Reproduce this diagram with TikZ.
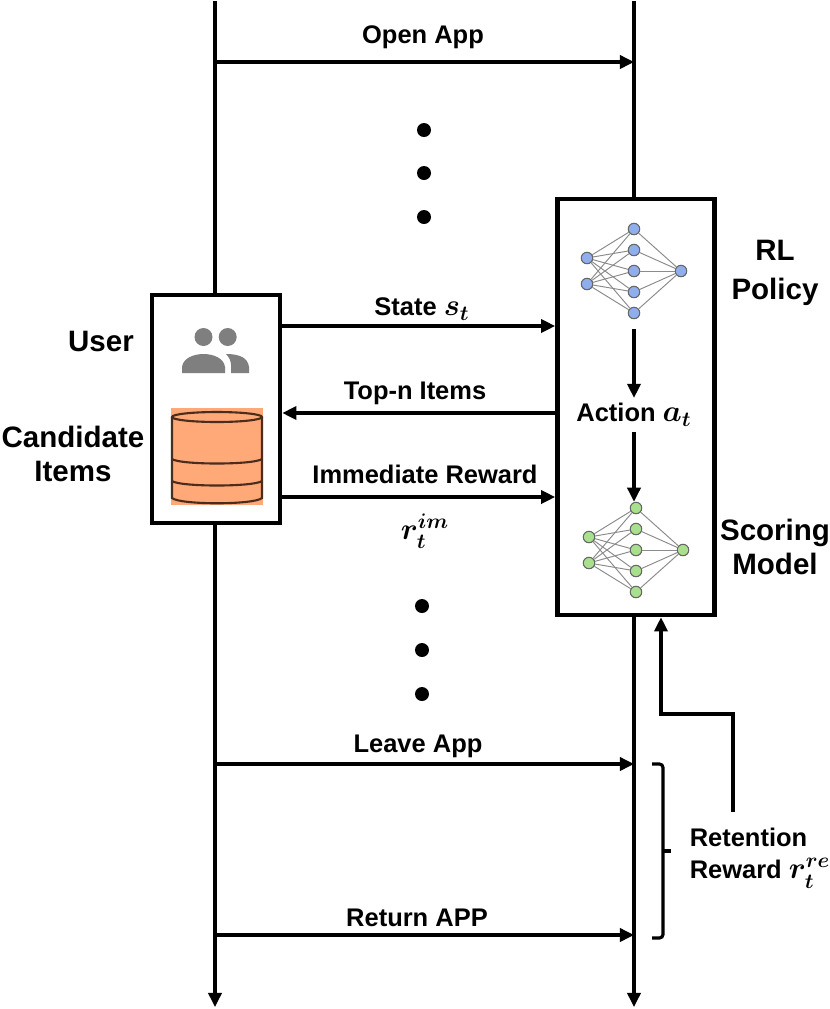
\documentclass[tikz,border=0pt]{standalone}
\usepackage{amsmath}
\usepackage{fontspec}
\setmainfont{Liberation Sans}
\usetikzlibrary{arrows.meta}

\definecolor{netblue}{HTML}{8FAEEB}
\definecolor{netgreen}{HTML}{A9E08E}
\definecolor{dbfill}{HTML}{FFA878}
\definecolor{dbline}{HTML}{4A2D1C}
\definecolor{usergray}{HTML}{7F7F7F}

\newcommand{\bsym}[1]{{\fontsize{17}{20}\selectfont\mathversion{bold}$#1$}}

% one small network: name, colour, x and y of its centre
\newcommand{\drawnet}[4]{
  \foreach \i in {1, 2} {
    \node[netnode, fill=#2] (#1-in-\i) at (#3-47,#4-39+26*\i) {};
  }
  \foreach \i in {1, ..., 5} {
    \node[netnode, fill=#2] (#1-mid-\i) at (#3,#4-63+21*\i) {};
  }
  \node[netnode, fill=#2] (#1-out) at (#3+47,#4) {};
  \foreach \i in {1, ..., 5} {
    \draw[netedge] (#1-in-1) -- (#1-mid-\i);
    \draw[netedge] (#1-in-2) -- (#1-mid-\i);
    \draw[netedge] (#1-mid-\i) -- (#1-out);
  }
}

\tikzset{
  flow/.style={-{Triangle[length=8pt,width=7.5pt]}, line width=1.8pt},
  plain/.style={line width=1.8pt},
  panel/.style={draw, fill=white, line width=2.7pt},
  lab/.style={font=\bfseries\fontsize{14.5}{18}\selectfont, inner sep=1pt},
  biglab/.style={font=\bfseries\fontsize{16.8}{19.3}\selectfont, align=center, inner sep=1pt},
  netnode/.style={circle, draw=black!60, line width=0.6pt, minimum size=0.23cm, inner sep=0pt},
  netedge/.style={draw=black!45, line width=0.55pt},
}

\begin{document}
\begin{tikzpicture}[x=0.02cm, y=-0.02cm]
  \useasboundingbox (0,0) rectangle (830,1009);

  \coordinate (user-top) at (215,1);
  \coordinate (user-end) at (215,1007);
  \coordinate (app-top) at (634,1);
  \coordinate (app-end) at (634,1007);

  \node[panel, minimum width=2.56cm, minimum height=4.56cm] (user) at (216,409) {};
  \node[panel, minimum width=3.14cm, minimum height=8.32cm] (policy) at (636,407) {};

  % lifelines
  \draw[plain] (user-top) -- (user-top |- user.north);
  \draw[flow] (user-top |- user.south) -- (user-end);
  \draw[plain] (app-top) -- (app-top |- policy.north);
  \draw[flow] (app-top |- policy.south) -- (app-end);

  % user icon
  \fill[usergray] (203.5,337) circle (9);
  \fill[usergray] (227.7,337) circle (9);
  \fill[usergray] (182,373) -- (182,367) .. controls (183,358) and (194,354) .. (203.5,354)
    .. controls (213,354) and (224,358) .. (225,367) -- (225,373) -- cycle;
  \fill[usergray] (226,354) .. controls (240,354) and (248,358) .. (249,367)
    -- (249,373) -- (231,373) -- (231,365) .. controls (231,361) and (229,357) .. (226,354) -- cycle;

  % item store
  \fill[dbfill] (171,408) rectangle (263,505);
  \draw[dbline, line width=1.2pt] (217,417) ellipse (45 and 5);
  \draw[dbline, line width=1.2pt] (172,417) -- (172,498) .. controls (180,505) and (254,505) .. (262,498) -- (262,417);
  \foreach \y in {459, 481} {
    \draw[dbline, line width=1.2pt] (172,\y) .. controls (180,\y+6) and (254,\y+6) .. (262,\y);
  }

  % networks
  \drawnet{rl}{netblue}{634}{271}
  \drawnet{score}{netgreen}{636}{550}

  % dots
  \foreach \y in {130, 173, 217} {
    \fill (424,\y) circle (7);
  }
  \foreach \y in {606, 650, 694} {
    \fill (422,\y) circle (7);
  }

  \node[lab] (open) at (423,37) {Open App};
  \node[lab] (state) at (422,309) {State \bsym{s_t}};
  \node[lab] (top-n) at (415,393) {Top-n Items};
  \node[lab] (imm) at (425,474) {Immediate Reward};
  \node[lab] (imm-r) at (425,531) {\bsym{r_t^{im}}};
  \node[lab] (leave) at (418,746) {Leave App};
  \node[lab] (return) at (417,918) {Return APP};
  \node[lab, inner sep=3pt] (action) at (634,415) {Action \bsym{a_t}};

  \node[biglab] (user-lab) at (101,341) {User};
  \node[biglab] (items-lab) at (73,454) {Candidate\\Items};
  \node[biglab] (rl-lab) at (775,273) {RL\\[3pt]Policy};
  \node[biglab] (score-lab) at (775,547) {Scoring\\Model};
  \node[lab, align=left, font=\bfseries\fontsize{14.5}{18.7}\selectfont] (ret-lab) at (760,858) {Retention\\Reward \bsym{r_t^{re}}};

  % messages between the two sides
  \foreach \name/\y in {open/62, leave/764, return/935} {
    \draw[flow] (user-top |- 0,\y) -- (app-top |- 0,\y);
  }
  \foreach \y in {326, 497} {
    \draw[flow] (user.east |- 0,\y) -- (policy.west |- 0,\y);
  }
  \draw[flow] (policy.west |- 0,413) -- (user.east |- 0,413);

  % inside the policy box
  \draw[flow, shorten <=0.2cm] (rl-mid-5) -- (action.north -| rl-mid-5);
  \draw[flow] (action.south) -- (action.south |- score-mid-1.north);

  % retention reward
  \coordinate (ret-from) at (733,812);
  \coordinate (bend-a) at (733,714);
  \coordinate (bend-b) at (661,714);
  \draw[flow] (ret-from) -- (bend-a) -- (bend-b) -- (bend-b |- policy.south);
  \coordinate (brace-top) at (652,764);
  \coordinate (brace-end) at (652,938);
  \coordinate (brace-mid) at (671,851);
  \draw[plain, rounded corners=2pt] (brace-top) -- (663,764) -- (663,938) -- (brace-end);
  \draw[plain] (663,851) -- (brace-mid);
\end{tikzpicture}
\end{document}
